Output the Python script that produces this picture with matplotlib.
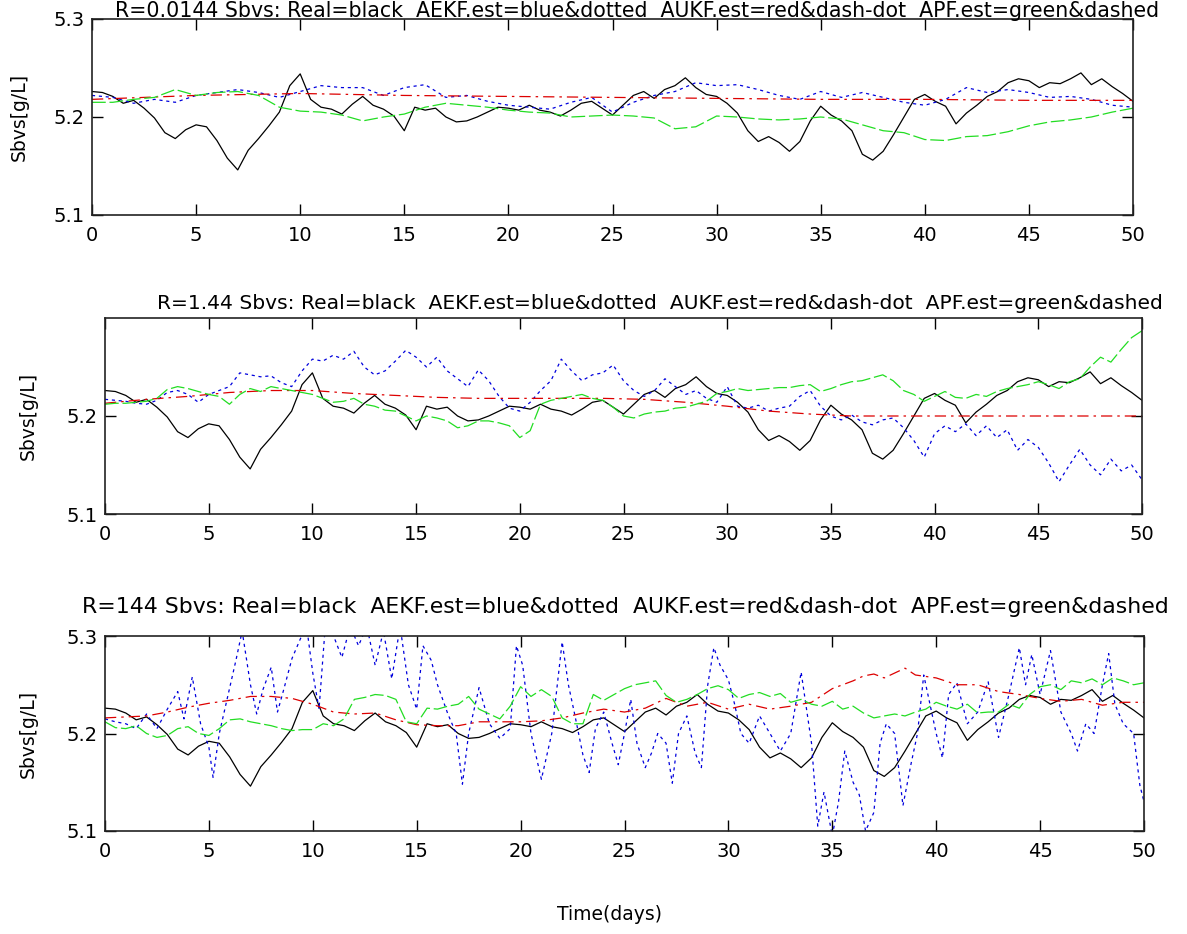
import numpy as np
import matplotlib.pyplot as plt

# figure size in pixels
W, H = 1187, 934

# time grids (days)
days_half = np.arange(0, 50.5, 0.5)
days_one = np.arange(0, 51, 1)

# real Sbvs, same in all three panels (0.5 day steps)
real_sbvs = [
    5.226, 5.225, 5.221, 5.214, 5.217, 5.209, 5.199, 5.184, 5.178, 5.187,
    5.192, 5.190, 5.176, 5.158, 5.146, 5.166, 5.178, 5.191, 5.205, 5.232,
    5.244, 5.218, 5.210, 5.208, 5.203, 5.213, 5.221, 5.212, 5.208, 5.201,
    5.186, 5.210, 5.207, 5.209, 5.200, 5.195, 5.196, 5.200, 5.205, 5.210,
    5.209, 5.207, 5.212, 5.207, 5.205, 5.201, 5.207, 5.214, 5.216, 5.209,
    5.202, 5.212, 5.222, 5.226, 5.219, 5.228, 5.232, 5.240, 5.230, 5.223,
    5.221, 5.214, 5.204, 5.186, 5.175, 5.180, 5.174, 5.165, 5.175, 5.196,
    5.211, 5.202, 5.196, 5.186, 5.162, 5.156, 5.165, 5.182, 5.200, 5.218,
    5.223, 5.216, 5.211, 5.193, 5.204, 5.212, 5.221, 5.226, 5.235, 5.239,
    5.237, 5.230, 5.235, 5.234, 5.239, 5.245, 5.233, 5.239, 5.231, 5.224,
    5.216]

# ---- panel 1, R=0.0144 ----
aekf_1 = [
    5.222, 5.220, 5.214, 5.218, 5.215, 5.222, 5.225, 5.228, 5.225, 5.220,
    5.226, 5.232, 5.230, 5.230, 5.222, 5.230, 5.233, 5.220, 5.222, 5.216,
    5.212, 5.210, 5.208, 5.215, 5.220, 5.205, 5.215, 5.222, 5.226, 5.235,
    5.232, 5.233, 5.228, 5.222, 5.218, 5.226, 5.220, 5.225, 5.220, 5.215,
    5.212, 5.218, 5.230, 5.225, 5.228, 5.225, 5.220, 5.221, 5.218, 5.212,
    5.210]
aukf_1_t = [0, 5, 10, 15, 20, 25, 30, 35, 40, 45, 50]
aukf_1 = [5.218, 5.222, 5.224, 5.222, 5.221, 5.220, 5.219, 5.218, 5.218, 5.217, 5.217]
apf_1 = [
    5.215, 5.215, 5.218, 5.220, 5.228, 5.222, 5.225, 5.226, 5.222, 5.210,
    5.206, 5.205, 5.202, 5.196, 5.200, 5.203, 5.210, 5.214, 5.212, 5.210,
    5.207, 5.205, 5.204, 5.200, 5.201, 5.202, 5.201, 5.199, 5.188, 5.190,
    5.201, 5.200, 5.198, 5.197, 5.198, 5.200, 5.198, 5.192, 5.186, 5.184,
    5.177, 5.176, 5.180, 5.181, 5.185, 5.191, 5.195, 5.197, 5.200, 5.205,
    5.209]

# ---- panel 2, R=1.44 ----
aekf_2 = [
    5.217, 5.216, 5.215, 5.213, 5.212, 5.216, 5.224, 5.226, 5.222, 5.214,
    5.222, 5.226, 5.230, 5.244, 5.242, 5.240, 5.241, 5.234, 5.230, 5.246,
    5.258, 5.256, 5.262, 5.258, 5.266, 5.250, 5.242, 5.246, 5.256, 5.267,
    5.260, 5.250, 5.260, 5.246, 5.238, 5.230, 5.247, 5.236, 5.220, 5.208,
    5.205, 5.214, 5.226, 5.236, 5.258, 5.246, 5.236, 5.242, 5.244, 5.252,
    5.236, 5.226, 5.220, 5.226, 5.238, 5.230, 5.222, 5.226, 5.218, 5.214,
    5.230, 5.210, 5.208, 5.211, 5.205, 5.208, 5.210, 5.220, 5.226, 5.210,
    5.200, 5.196, 5.201, 5.194, 5.191, 5.196, 5.198, 5.188, 5.175, 5.158,
    5.182, 5.190, 5.184, 5.192, 5.180, 5.190, 5.178, 5.186, 5.165, 5.176,
    5.168, 5.152, 5.133, 5.150, 5.166, 5.150, 5.140, 5.156, 5.144, 5.150,
    5.135]
aukf_2_t = [0, 2, 4, 6, 8, 10, 12, 14, 16, 18, 20, 22, 24, 26, 28, 30, 32, 34, 36, 40, 45, 50]
aukf_2 = [5.213, 5.217, 5.220, 5.224, 5.226, 5.226, 5.223, 5.221, 5.219, 5.218, 5.218,
          5.218, 5.218, 5.217, 5.214, 5.210, 5.205, 5.202, 5.200, 5.200, 5.200, 5.200]
apf_2 = [
    5.212, 5.213, 5.213, 5.214, 5.215, 5.218, 5.227, 5.230, 5.228, 5.225,
    5.222, 5.220, 5.212, 5.222, 5.228, 5.225, 5.230, 5.228, 5.226, 5.224,
    5.222, 5.218, 5.214, 5.215, 5.218, 5.212, 5.210, 5.206, 5.205, 5.200,
    5.195, 5.200, 5.198, 5.195, 5.188, 5.190, 5.195, 5.195, 5.193, 5.190,
    5.178, 5.185, 5.212, 5.216, 5.218, 5.220, 5.222, 5.218, 5.216, 5.209,
    5.200, 5.198, 5.202, 5.204, 5.205, 5.208, 5.209, 5.212, 5.215, 5.223,
    5.225, 5.228, 5.226, 5.227, 5.228, 5.229, 5.229, 5.231, 5.232, 5.225,
    5.228, 5.232, 5.235, 5.236, 5.239, 5.242, 5.236, 5.226, 5.222, 5.215,
    5.220, 5.225, 5.219, 5.218, 5.222, 5.220, 5.225, 5.228, 5.230, 5.232,
    5.235, 5.232, 5.228, 5.235, 5.238, 5.250, 5.260, 5.255, 5.268, 5.280,
    5.287]

# ---- panel 3, R=144 ----
aekf_3_t = [
    0, 0.5, 1, 1.5, 2, 2.5, 3, 3.5, 3.8, 4.2, 4.6, 5.0, 5.2, 5.5, 6.0, 6.3, 6.6,
    7.0, 7.3, 7.6, 8.0, 8.3, 8.6, 9.0, 9.4, 9.7, 10.0, 10.3, 10.6, 11.0, 11.4,
    11.8, 12.2, 12.6, 13.0, 13.4, 13.8, 14.2, 14.6, 15.0, 15.3, 15.7, 16.0, 16.5,
    16.9, 17.2, 17.5, 18.0, 18.5, 19.0, 19.5, 19.8, 20.1, 20.5, 21.0, 21.5, 22.0,
    22.3, 22.6, 23.0, 23.3, 23.6, 24.0, 24.4, 24.7, 25.0, 25.3, 25.6, 26.0, 26.3,
    26.6, 27.0, 27.3, 27.6, 28.0, 28.4, 28.7, 29.0, 29.3, 29.6, 30.0, 30.3, 30.6,
    31.0, 31.5, 32.0, 32.5, 33.0, 33.5, 34.0, 34.3, 34.6, 35.0, 35.3, 35.6, 36.0,
    36.3, 36.6, 37.0, 37.3, 37.6, 38.0, 38.4, 38.8, 39.1, 39.4, 39.7, 40.0, 40.3,
    40.6, 41.0, 41.5, 42.0, 42.5, 43.0, 43.5, 44.0, 44.3, 44.6, 45.0, 45.5, 46.0,
    46.5, 46.8, 47.2, 47.6, 48.0, 48.3, 48.6, 49.0, 49.5, 49.8, 50.0]
aekf_3 = [
    5.215, 5.212, 5.210, 5.205, 5.220, 5.205, 5.225, 5.243, 5.215, 5.258, 5.210,
    5.186, 5.155, 5.200, 5.247, 5.275, 5.305, 5.250, 5.220, 5.245, 5.268, 5.222,
    5.245, 5.277, 5.297, 5.310, 5.262, 5.225, 5.310, 5.300, 5.278, 5.310, 5.290,
    5.310, 5.270, 5.305, 5.256, 5.310, 5.250, 5.225, 5.290, 5.275, 5.250, 5.220,
    5.200, 5.148, 5.200, 5.247, 5.210, 5.195, 5.205, 5.290, 5.270, 5.200, 5.153,
    5.200, 5.294, 5.250, 5.220, 5.178, 5.160, 5.205, 5.222, 5.190, 5.168, 5.200,
    5.235, 5.190, 5.165, 5.180, 5.200, 5.190, 5.149, 5.200, 5.218, 5.180, 5.165,
    5.249, 5.288, 5.270, 5.255, 5.230, 5.200, 5.190, 5.218, 5.200, 5.182, 5.200,
    5.263, 5.190, 5.105, 5.140, 5.095, 5.130, 5.182, 5.150, 5.137, 5.100, 5.119,
    5.190, 5.210, 5.200, 5.126, 5.170, 5.200, 5.260, 5.230, 5.200, 5.175, 5.240,
    5.252, 5.210, 5.222, 5.253, 5.196, 5.240, 5.288, 5.250, 5.281, 5.240, 5.285,
    5.222, 5.200, 5.182, 5.210, 5.200, 5.250, 5.282, 5.230, 5.210, 5.200, 5.147,
    5.130]
aukf_3_t = [0, 2, 3, 4, 5, 6, 7, 8, 9, 10, 11, 12, 13, 14, 15, 16, 17, 18, 19, 20,
            21, 22, 23, 24, 25, 26, 27, 28, 29, 30, 31, 32, 33, 34, 34.5, 35, 35.5,
            36, 36.5, 37, 37.5, 38, 38.5, 39, 40, 41, 42, 43, 44, 45, 46, 47, 48, 49, 50]
aukf_3 = [5.216, 5.218, 5.222, 5.227, 5.231, 5.234, 5.238, 5.238, 5.236, 5.230,
          5.222, 5.220, 5.221, 5.214, 5.209, 5.208, 5.208, 5.212, 5.212, 5.212,
          5.213, 5.216, 5.221, 5.225, 5.222, 5.226, 5.236, 5.228, 5.232, 5.225,
          5.230, 5.225, 5.228, 5.232, 5.239, 5.246, 5.250, 5.254, 5.259, 5.261,
          5.257, 5.262, 5.267, 5.260, 5.257, 5.250, 5.250, 5.243, 5.240, 5.236,
          5.233, 5.235, 5.229, 5.232, 5.232]
apf_3 = [
    5.212, 5.206, 5.205, 5.208, 5.200, 5.196, 5.198, 5.205, 5.207, 5.200,
    5.198, 5.205, 5.214, 5.215, 5.212, 5.210, 5.208, 5.205, 5.203, 5.204,
    5.204, 5.210, 5.208, 5.215, 5.235, 5.237, 5.240, 5.239, 5.235, 5.212,
    5.210, 5.226, 5.225, 5.228, 5.230, 5.238, 5.225, 5.220, 5.215, 5.228,
    5.248, 5.238, 5.245, 5.238, 5.216, 5.210, 5.210, 5.240, 5.234, 5.240,
    5.246, 5.250, 5.252, 5.254, 5.239, 5.232, 5.235, 5.240, 5.246, 5.249,
    5.245, 5.236, 5.240, 5.242, 5.238, 5.241, 5.232, 5.235, 5.230, 5.228,
    5.233, 5.225, 5.228, 5.221, 5.216, 5.218, 5.220, 5.218, 5.222, 5.225,
    5.232, 5.228, 5.225, 5.230, 5.221, 5.222, 5.222, 5.230, 5.226, 5.240,
    5.248, 5.250, 5.245, 5.254, 5.252, 5.256, 5.250, 5.257, 5.254, 5.250,
    5.252]

titles = ['R=0.0144 Sbvs: Real=black  AEKF.est=blue&dotted  AUKF.est=red&dash-dot  APF.est=green&dashed',
          'R=1.44 Sbvs: Real=black  AEKF.est=blue&dotted  AUKF.est=red&dash-dot  APF.est=green&dashed',
          'R=144 Sbvs: Real=black  AEKF.est=blue&dotted  AUKF.est=red&dash-dot  APF.est=green&dashed']

plt.rcParams['font.family'] = ['DejaVu Sans']

fig = plt.figure(figsize=(W / 100, H / 100), dpi=100)


def box(l, t, r, b):
    # pixel box -> figure fraction
    return [l / W, 1 - b / H, (r - l) / W, (b - t) / H]


# axes boxes in pixels (left, top, right, bottom)
boxes = [(92, 19, 1133, 215), (105, 318, 1142, 514), (105, 636, 1144, 831)]
# title centre x and baseline y in pixels, and size
title_x = [637, 660, 625]
title_base = [17, 309, 613]
title_size = [14.8, 14.6, 15.8]
ylab_x = [29, 38, 38]   # right edge of the rotated y label
yticks_list = [[5.1, 5.2, 5.3], [5.1, 5.2], [5.1, 5.2, 5.3]]

panels = [
    (days_one, aekf_1, aukf_1_t, aukf_1, days_one, apf_1),
    (days_half, aekf_2, aukf_2_t, aukf_2, days_half, apf_2),
    (aekf_3_t, aekf_3, aukf_3_t, aukf_3, days_half, apf_3),
]

lw = 0.9
for i, (bt, bv, rt, rv, gt, gv) in enumerate(panels):
    l, t, r, b = boxes[i]
    ax = fig.add_axes(box(l, t, r, b))
    ax.plot(days_half, real_sbvs, color='black', lw=lw)
    ax.plot(bt, bv, color='#0000dd', lw=lw, linestyle=(0, (2.5, 3)))
    ax.plot(rt, rv, color='#dd0000', lw=lw, linestyle=(0, (9, 4, 2, 4)))
    ax.plot(gt, gv, color='#22dd22', lw=lw, linestyle=(0, (11, 3)))

    ax.set_xlim(0, 50)
    ax.set_ylim(5.1, 5.3)
    ax.set_xticks(np.arange(0, 55, 5))
    ax.set_yticks(yticks_list[i])
    ax.set_yticklabels(['%.1f' % v for v in yticks_list[i]])
    ax.tick_params(direction='in', length=8, width=1, top=True, right=True,
                   labelsize=14, colors='black')
    ax.tick_params(axis='x', pad=8)
    ax.tick_params(axis='y', pad=5)
    for s in ax.spines.values():
        s.set_linewidth(1.2)
        s.set_color('#222222')

    ax.set_ylabel('Sbvs[g/L]', fontsize=13.5)
    ax.yaxis.set_label_coords((ylab_x[i] - l) / (r - l), 0.5)

    fig.text(title_x[i] / W, 1 - title_base[i] / H, titles[i],
             ha='center', va='baseline', fontsize=title_size[i])

fig.text(610 / W, 1 - 915 / H, 'Time(days)', ha='center', va='center', fontsize=13.5)

fig.savefig('out.png', dpi=100, facecolor='white')
